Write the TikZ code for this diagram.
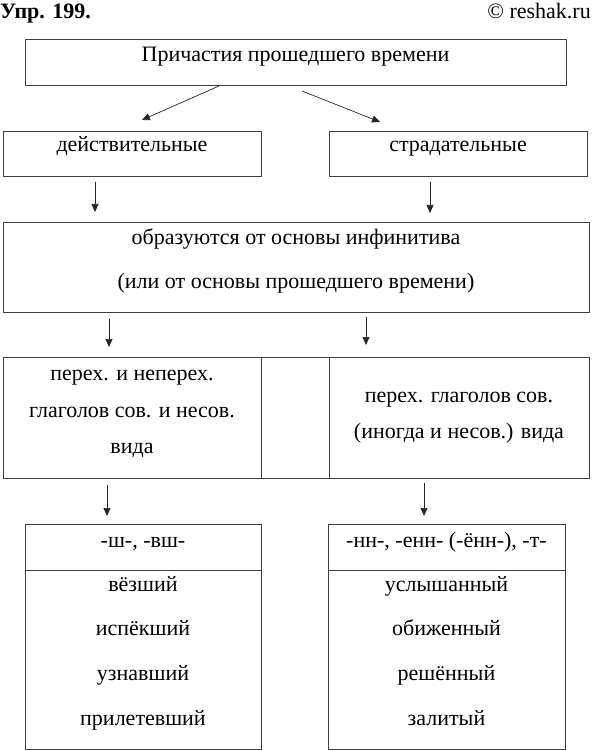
\documentclass[tikz,border=0pt]{standalone}
\usepackage{fontspec}
\setmainfont{Liberation Serif}
\usetikzlibrary{arrows.meta}
\begin{document}
\begin{tikzpicture}[x=1pt,y=-1pt,
  box/.style={draw=black!75, line width=0.8pt, inner sep=0pt, outer sep=0pt, anchor=north west},
  txt/.style={inner sep=0pt, font=\fontsize{22}{26}\selectfont, text height=15pt, text depth=5pt},
  arr/.style={draw=black!85, line width=0.7pt, -{Triangle[length=8pt,width=7pt]}}]
\useasboundingbox (0,0) rectangle (592,751);
% header
\node[txt, anchor=west, font=\fontsize{22}{26}\selectfont\bfseries] (hdl) at (0,14) {Упр. 199.};
\node[txt, anchor=east] (hdr) at (591,14) {© reshak.ru};
% top
\node[box, minimum width=541pt, minimum height=46pt] (top) at (25,39) {};
\node[txt] (toptxt) at (295.5,57) {Причастия прошедшего времени};
% level 2
\node[box, minimum width=258pt, minimum height=45pt] (act) at (3,131) {};
\node[txt] (acttxt) at (132,147) {действительные};
\node[box, minimum width=258pt, minimum height=45pt] (pas) at (329,131) {};
\node[txt] (pastxt) at (458,147) {страдательные};
\coordinate (a1s) at (219,86); \coordinate (a1e) at (142,120);
\coordinate (a2s) at (302,91); \coordinate (a2e) at (380,122);
\draw[arr] (a1s) -- (a1e);
\draw[arr] (a2s) -- (a2e);
% level 3
\node[box, minimum width=586pt, minimum height=90pt] (form) at (3,222) {};
\node[txt] (formtxt1) at (296,239) {образуются от основы инфинитива};
\node[txt] (formtxt2) at (296,283) {(или от основы прошедшего времени)};
\coordinate (b1s) at (95,182); \coordinate (b1e) at (95,212);
\coordinate (b2s) at (430,182); \coordinate (b2e) at (430,213);
\draw[arr] (b1s) -- (b1e);
\draw[arr] (b2s) -- (b2e);
% level 4
\node[box, minimum width=258pt, minimum height=121pt] (vl) at (3,357) {};
\node[box, minimum width=68pt, minimum height=121pt] (vm) at (261,357) {};
\node[box, minimum width=260pt, minimum height=121pt] (vr) at (329,357) {};
\node[txt] (vl1) at (132,375) {перех. и неперех.};
\node[txt] (vl2) at (132,412) {глаголов сов. и несов.};
\node[txt] (vl3) at (132,448) {вида};
\node[txt] (vr1) at (459,397) {перех. глаголов сов.};
\node[txt] (vr2) at (459,433) {(иногда и несов.) вида};
\coordinate (c1s) at (109,319); \coordinate (c1e) at (109,347);
\coordinate (c2s) at (366,317); \coordinate (c2e) at (366,345);
\draw[arr] (c1s) -- (c1e);
\draw[arr] (c2s) -- (c2e);
% level 5
\node[box, minimum width=236pt, minimum height=46pt] (sl) at (25,524) {};
\node[box, minimum width=236pt, minimum height=179pt] (ll) at (25,570) {};
\node[box, minimum width=237pt, minimum height=46pt] (sr) at (328,524) {};
\node[box, minimum width=237pt, minimum height=179pt] (lr) at (328,570) {};
\node[txt] (slt) at (143,542) {-ш-, -вш-};
\node[txt] (ll1) at (143,586) {вёзший};
\node[txt] (ll2) at (143,630) {испёкший};
\node[txt] (ll3) at (143,675) {узнавший};
\node[txt] (ll4) at (143,720) {прилетевший};
\node[txt] (srt) at (446.5,542) {-нн-, -енн- (-ённ-), -т-};
\node[txt] (lr1) at (446.5,586) {услышанный};
\node[txt] (lr2) at (446.5,630) {обиженный};
\node[txt] (lr3) at (446.5,675) {решённый};
\node[txt] (lr4) at (446.5,720) {залитый};
\coordinate (d1s) at (107,485); \coordinate (d1e) at (107,516);
\coordinate (d2s) at (424,483); \coordinate (d2e) at (424,516);
\draw[arr] (d1s) -- (d1e);
\draw[arr] (d2s) -- (d2e);
\end{tikzpicture}
\end{document}
